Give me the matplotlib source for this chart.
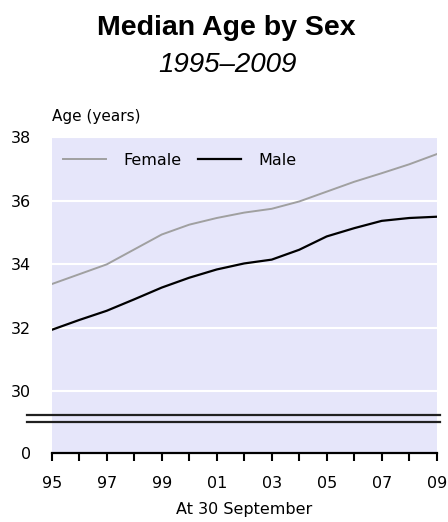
import numpy as np
import matplotlib.pyplot as plt
from matplotlib.lines import Line2D

years = [1995, 1996, 1997, 1998, 1999, 2000, 2001, 2002, 2003, 2004, 2005, 2006, 2007, 2008, 2009]
female = [33.38, 33.69, 34.00, 34.47, 34.94, 35.25, 35.46, 35.63, 35.75, 35.98, 36.29, 36.60, 36.87, 37.15, 37.47]
male = [31.94, 32.25, 32.54, 32.90, 33.27, 33.58, 33.84, 34.03, 34.15, 34.46, 34.88, 35.14, 35.37, 35.46, 35.50]
yticks_top = [30, 32, 34, 36, 38]

bg = '#E6E6FA'
grey = '#A0A0A0'
font = 'DejaVu Sans'
fs = 11.5

W, H = 448, 522
fig = plt.figure(figsize=(W / 100, H / 100), dpi=100)

def fx(px):
    return px / W

def fy(py):
    return 1 - py / H

left, right = 51.7, 436.7
top, brk, bottom = 137.3, 418.3, 452.7

ax = fig.add_axes([fx(left), fy(brk), fx(right - left), fy(top) - fy(brk)])
axb = fig.add_axes([fx(left), fy(bottom), fx(right - left), fy(brk) - fy(bottom)], sharex=ax)

for a in (ax, axb):
    a.set_facecolor(bg)
    for s in a.spines.values():
        s.set_visible(False)

ax.set_ylim(29.156, 37.94)
ax.set_yticks(yticks_top)
ax.yaxis.grid(True, color='white', linewidth=1.5)
ax.set_axisbelow(True)
ax.tick_params(axis='y', length=0, pad=15, labelsize=fs)
ax.tick_params(axis='x', bottom=False, labelbottom=False)
for lab in ax.get_yticklabels():
    lab.set_fontfamily(font)

ax.plot(years, female, color=grey, linewidth=1.4, label='Female')
ax.plot(years, male, color='black', linewidth=1.6, label='Male')
ax.set_xlim(1995, 2009)

leg = ax.legend(loc='upper left', ncol=2, frameon=False,
                handlelength=2.7, handletextpad=1.1, columnspacing=1.0,
                bbox_to_anchor=(0.0, 0.985), borderaxespad=0.3,
                prop={'family': font, 'size': fs})

axb.set_ylim(0, 1)
axb.set_yticks([0])
axb.tick_params(axis='y', length=0, pad=15, labelsize=fs)
axb.spines['bottom'].set_visible(True)
axb.spines['bottom'].set_linewidth(1.6)
axb.set_xticks(years)
axb.set_xticklabels([str(y)[2:] if (y - 1995) % 2 == 0 else '' for y in years])
axb.tick_params(axis='x', direction='out', length=5.5, width=1.5, pad=11, labelsize=fs)
for lab in axb.get_xticklabels() + axb.get_yticklabels():
    lab.set_fontfamily(font)
axb.set_xlabel('At 30 September', fontsize=fs, family=font, labelpad=8)

# axis break marks
for py in (415.0, 421.7):
    fig.add_artist(Line2D([fx(27), fx(440)], [fy(py), fy(py)], color='#202020', linewidth=1.6))

fig.text(fx(left), fy(117), 'Age (years)', ha='left', va='center', fontsize=11, family=font)
fig.text(0.505, fy(28), 'Median Age by Sex', ha='center', va='center',
         fontsize=20.5, fontweight='bold', family='Liberation Sans')
fig.text(0.507, fy(65), '1995\u20132009', ha='center', va='center',
         fontsize=20, fontstyle='italic', family='Liberation Sans')

fig.savefig('out.png', dpi=100)
